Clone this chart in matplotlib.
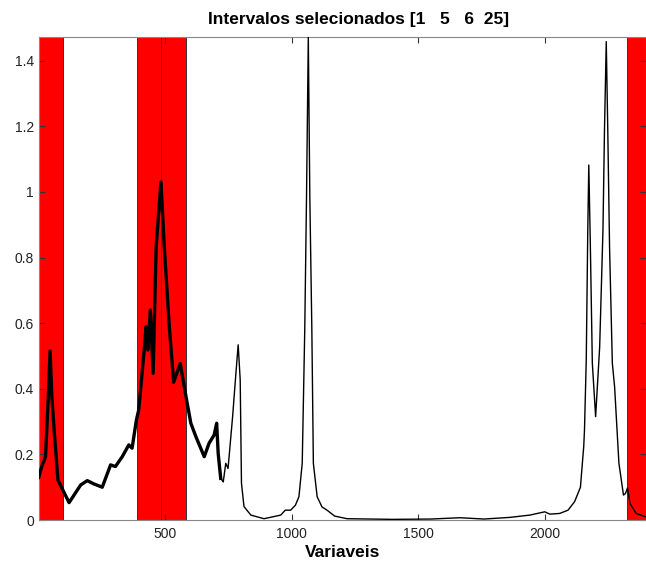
import matplotlib
matplotlib.use("Agg")
import matplotlib.pyplot as plt

# spectrum (variable index, absorbance)
var_idx = [1, 12, 28, 39, 46, 53, 62, 77, 91, 121, 167, 193, 219, 252, 285, 304, 331,
           357, 370, 387, 396, 419, 425, 432, 442, 453, 465, 484, 497, 517, 534, 560,
           583, 602, 622, 655, 674, 694, 704, 710, 720, 730, 740, 749, 767, 780, 789,
           797, 802, 812, 839, 891, 957, 975, 996, 1015, 1029, 1042, 1052, 1059, 1066,
           1072, 1080, 1086, 1101, 1120, 1140, 1170, 1219, 1400, 1550, 1665, 1760,
           1862, 1941, 2000, 2020, 2059, 2092, 2118, 2141, 2154, 2157, 2164, 2170,
           2174, 2180, 2188, 2201, 2217, 2230, 2236, 2243, 2249, 2256, 2267, 2276,
           2293, 2311, 2319, 2327, 2337, 2361, 2398]
absorb = [0.13, 0.16, 0.193, 0.376, 0.515, 0.376, 0.274, 0.122, 0.10, 0.053, 0.107,
          0.12, 0.11, 0.10, 0.168, 0.163, 0.193, 0.229, 0.219, 0.305, 0.335, 0.528,
          0.589, 0.518, 0.64, 0.447, 0.833, 1.03, 0.833, 0.589, 0.42, 0.477, 0.376,
          0.295, 0.254, 0.193, 0.234, 0.259, 0.295, 0.203, 0.127, 0.116, 0.173, 0.157,
          0.315, 0.447, 0.534, 0.427, 0.112, 0.041, 0.015, 0.004, 0.015, 0.03, 0.03,
          0.045, 0.071, 0.173, 0.58, 0.986, 1.473, 0.986, 0.58, 0.173, 0.071, 0.04,
          0.03, 0.012, 0.004, 0.002, 0.003, 0.007, 0.003, 0.008, 0.015, 0.025, 0.018,
          0.02, 0.03, 0.056, 0.10, 0.224, 0.274, 0.488, 0.884, 1.082, 0.844, 0.478,
          0.315, 0.528, 0.884, 1.189, 1.458, 1.189, 0.833, 0.478, 0.406, 0.173, 0.076,
          0.081, 0.098, 0.05, 0.02, 0.01]

# selected intervals
sel_intervals = [1, 5, 6, 25]
int_start = [1, 389, 485, 2326]
int_end = [96, 485, 581, 2400]

plt.rcParams["font.family"] = ["Liberation Sans", "DejaVu Sans"]

fig = plt.figure(figsize=(6.46, 5.62), dpi=100)
ax = fig.add_axes([0.0599, 0.0747, 0.9401, 0.860])

for a, b in zip(int_start, int_end):
    ax.axvspan(a, b, facecolor="#ff0000", edgecolor="#333333", linewidth=0.7, zorder=1)

ax.plot(var_idx, absorb, color="k", linewidth=1.0, zorder=3)
# the first part is a bundle of many overlapping spectra, so it looks thicker
n_thick = sum(1 for v in var_idx if v <= 720)
ax.plot(var_idx[:n_thick], absorb[:n_thick], color="k", linewidth=2.4, zorder=3)

ax.set_xlim(1, 2400)
ax.set_ylim(0, 1.473)
ax.set_xticks([500, 1000, 1500, 2000])
ax.set_yticks([0, 0.2, 0.4, 0.6, 0.8, 1.0, 1.2, 1.4])
ax.set_yticklabels(["0", "0.2", "0.4", "0.6", "0.8", "1", "1.2", "1.4"])
ax.tick_params(direction="in", top=True, right=True, length=4, width=0.8,
               colors="#333333", labelsize=10, labelcolor="#222222")
ax.tick_params(axis="x", pad=5)
for s in ax.spines.values():
    s.set_color("#888888")
    s.set_linewidth(0.8)

title = "Intervalos selecionados [" + "   ".join(str(i) for i in sel_intervals[:3]) \
        + "  " + str(sel_intervals[3]) + "]"
# title sits a bit right of the axes centre in the original
ax.set_title(title, fontsize=12.5, fontweight="bold", pad=9, x=0.527)
ax.set_xlabel("Variaveis", fontsize=12.5, fontweight="bold", labelpad=3)

fig.savefig("out.png", dpi=100)
